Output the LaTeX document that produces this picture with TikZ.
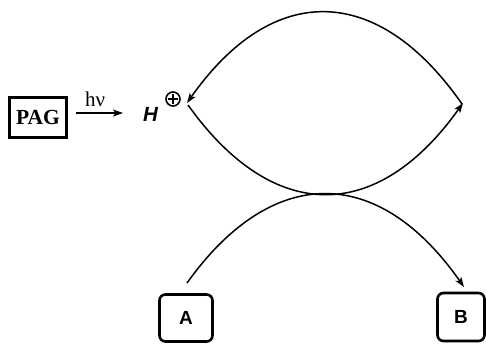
\documentclass[tikz,border=0pt]{standalone}
\usepackage{fontspec}
\setmainfont{Liberation Serif}
\setsansfont{Liberation Sans}
\usetikzlibrary{arrows.meta}
\tikzset{
  arr/.style={line width=1.5pt,-{Stealth[length=10pt,width=7pt,inset=2.5pt]}},
  pagbox/.style={draw,line width=2.6pt,inner sep=0pt,minimum width=57pt,minimum height=40pt,font=\fontsize{21.5}{25}\selectfont\bfseries},
  letterbox/.style={draw,line width=2.6pt,rounded corners=6pt,inner sep=0pt,font=\fontsize{19}{22}\selectfont\sffamily\bfseries}
}
\begin{document}
\begin{tikzpicture}[x=1pt,y=-1pt]
\useasboundingbox (0,0) rectangle (486,343);
\node[pagbox] (pag) at (38,117.5) {PAG};
\coordinate (hs) at (76,113);
\coordinate (he) at (123,113);
\draw[arr] (hs) -- (he);
\node[anchor=base west,inner sep=0pt,font=\fontsize{21}{25}\selectfont] (hv) at (85,106) {hν};
\node[anchor=base west,inner sep=0pt,font=\fontsize{20.5}{24}\selectfont\sffamily\bfseries\itshape] (h) at (143,121) {H};
\node[circle,draw,line width=1.6pt,minimum size=14pt,inner sep=0pt] (plus) at (173,99) {};
\draw[line width=1.6pt] ([xshift=-4.6pt]plus.center) -- ([xshift=4.6pt]plus.center)
  ([yshift=-4.6pt]plus.center) -- ([yshift=4.6pt]plus.center);
\coordinate (L) at (187,103);
\coordinate (R) at (462,104);
\coordinate (Ls) at (188,105);
\coordinate (Re) at (463,103);
\draw[arr] (R) .. controls (377,-18) and (272,-18) .. (L);
\draw[arr] (Ls) .. controls (273,224) and (377,224) .. (Re);
\node[letterbox,minimum width=53pt,minimum height=47pt] (a) at (186,318) {A};
\node[letterbox,minimum width=47pt,minimum height=48pt] (b) at (461,317) {B};
\coordinate (as) at (187,283);
\coordinate (be) at (464,287);
\draw[arr] (as) .. controls (272,164) and (378,164) .. (be);
\end{tikzpicture}
\end{document}
